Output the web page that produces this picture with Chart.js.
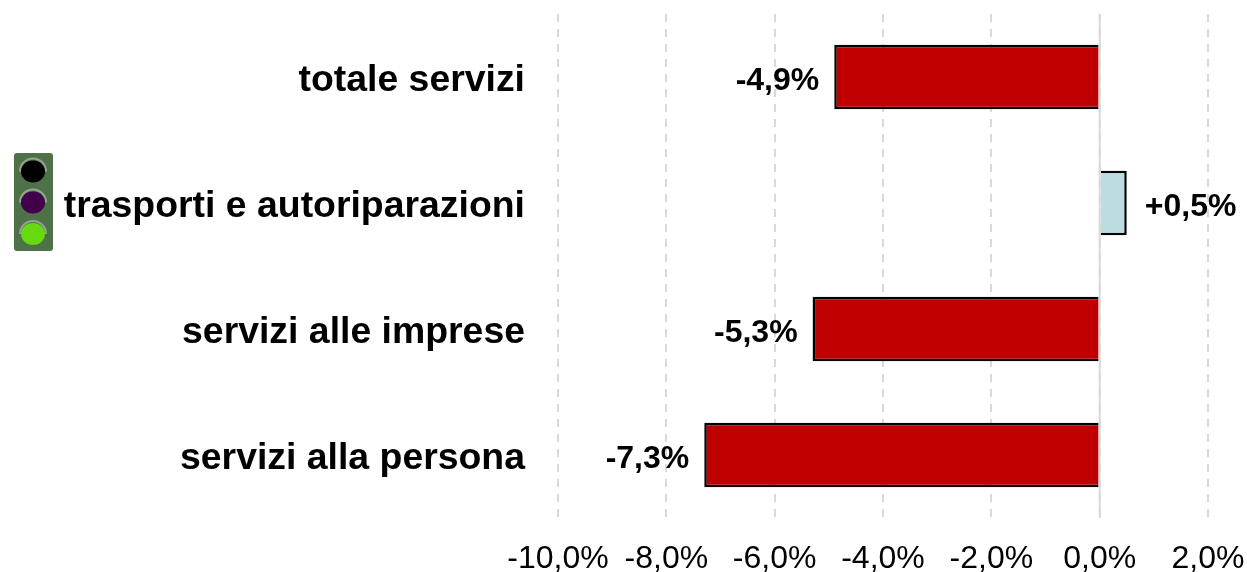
<!DOCTYPE html>
<html>
<head>
<meta charset="utf-8">
<title>Servizi</title>
<script src="https://cdn.jsdelivr.net/npm/chart.js@4"></script>
<style>
    html, body { margin: 0; padding: 0; background: #fff; overflow: hidden; }
    #semaforo { position: absolute; left: 14px; top: 153px; }
    canvas { display: block; }
</style>
</head>
<body>
<canvas id="servizi-chart" width="1247" height="572"></canvas>
<!-- Semaforo decorativo a sinistra -->
<svg id="semaforo" width="39" height="98" viewBox="0 0 39 98">
    <rect width="39" height="98" rx="3" fill="#4f7148"/>
    <path d="M6 18.5a13 13 0 0 1 26 0M6 49.5a13 13 0 0 1 26 0M6 81a13 13 0 0 1 26 0" fill="none" stroke="#95a492" stroke-width="2"/>
    <ellipse cx="19" cy="18.5" rx="12" ry="11" fill="#000"/>
    <ellipse cx="19" cy="49.5" rx="12" ry="11" fill="#40004a"/>
    <ellipse cx="19" cy="81" rx="12" ry="11" fill="#66d90f"/>
</svg>
<script>
const categorie = ["totale servizi", "trasporti e autoriparazioni", "servizi alle imprese", "servizi alla persona"];
const valori = [-4.9, 0.5, -5.3, -7.3];
const etichette = ["-4,9%", "+0,5%", "-5,3%", "-7,3%"];
const colori = ["#c00000", "#bbdde1", "#c00000", "#c00000"];

const FONT = "'Liberation Sans', Arial, sans-serif";

// Linea dello zero sopra le barre ed etichette dei valori
const etichetteBarre = {
    id: "etichetteBarre",
    afterDatasetsDraw(chart) {
        const ctx = chart.ctx;
        const x0 = chart.scales.x.getPixelForValue(0);
        const area = chart.chartArea;

        ctx.save();
        ctx.strokeStyle = "#d9d9d9";
        ctx.lineWidth = 2;
        ctx.beginPath();
        ctx.moveTo(x0, area.top);
        ctx.lineTo(x0, area.bottom);
        ctx.stroke();

        ctx.fillStyle = "#000";
        ctx.font = "bold 32px " + FONT;
        ctx.textBaseline = "middle";
        chart.getDatasetMeta(0).data.forEach((bar, i) => {
            if (valori[i] < 0) {
                ctx.textAlign = "right";
                ctx.fillText(etichette[i], bar.x - 15, bar.y + 4);
            } else {
                ctx.textAlign = "left";
                ctx.fillText(etichette[i], bar.x + 18, bar.y + 4);
            }
        });
        ctx.restore();
    }
};

new Chart(document.getElementById("servizi-chart"), {
    type: "bar",
    data: {
        labels: categorie,
        datasets: [{
            data: valori,
            backgroundColor: colori,
            borderColor: "#000",
            borderWidth: 2.5,
            borderSkipped: "start",
            barPercentage: 1,
            categoryPercentage: 0.51
        }]
    },
    options: {
        indexAxis: "y",
        responsive: false,
        animation: false,
        layout: { padding: { top: 14, right: 39, left: 0, bottom: 0 } },
        plugins: {
            legend: { display: false },
            tooltip: { enabled: false }
        },
        scales: {
            x: {
                min: -10,
                max: 2,
                afterFit(scale) {
                    scale.height = 54;
                    scale.paddingLeft = 0;
                    scale.paddingRight = 0;
                },
                border: {
                    display: false,
                    dash: [8, 7]
                },
                grid: {
                    color: "#d9d9d9",
                    lineWidth: 2,
                    drawTicks: false
                },
                ticks: {
                    stepSize: 2,
                    padding: 22,
                    color: "#000",
                    maxRotation: 0,
                    autoSkip: false,
                    font: { family: FONT, size: 32 },
                    callback: value => value.toFixed(1).replace(".", ",") + "%"
                }
            },
            y: {
                afterFit(scale) {
                    scale.width = 558;
                    scale.paddingTop = 0;
                    scale.paddingBottom = 0;
                },
                border: { display: false },
                grid: { display: false, drawTicks: false },
                ticks: {
                    padding: 33,
                    labelOffset: 4,
                    color: "#000",
                    font: { family: FONT, size: 37.4, weight: "bold" }
                }
            }
        }
    },
    plugins: [etichetteBarre]
});
</script>
</body>
</html>
